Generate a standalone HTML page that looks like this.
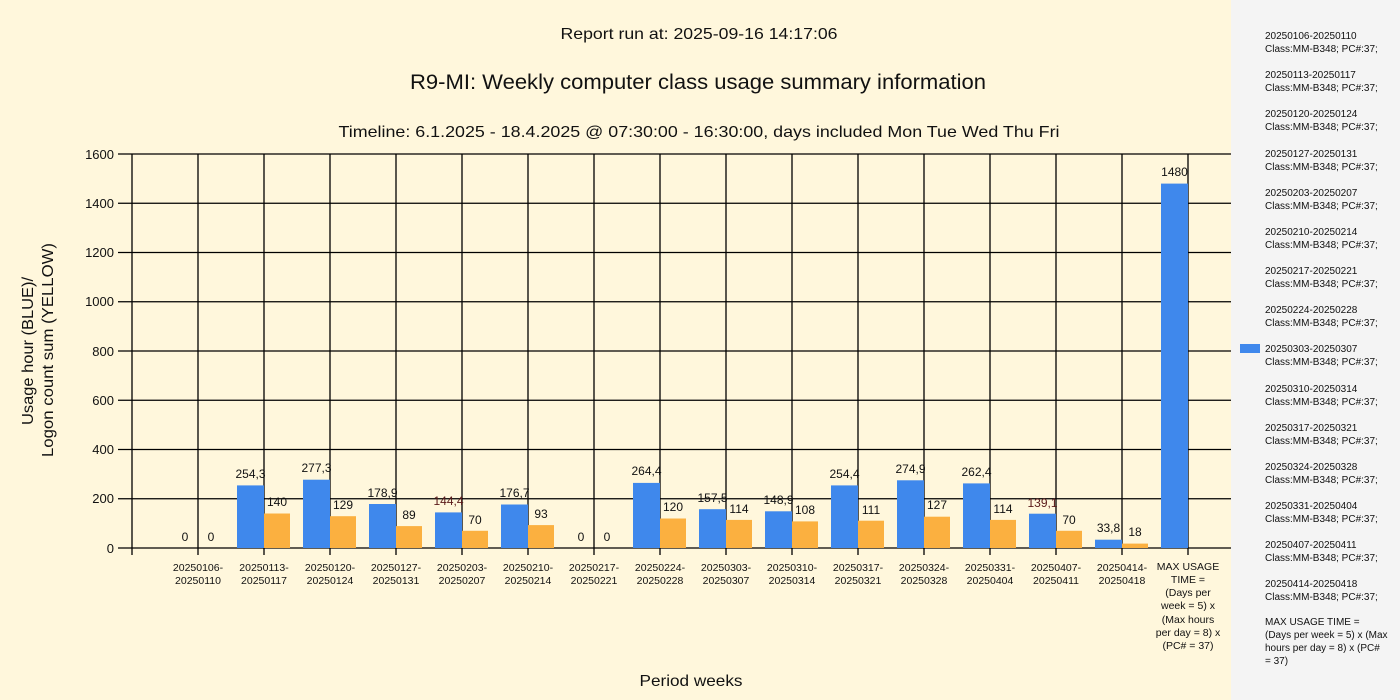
<!DOCTYPE html>
<html><head><meta charset="utf-8"><style>
html,body{margin:0;padding:0;width:1400px;height:700px;overflow:hidden;background:#fff8dc}
svg{display:block}
text{font-family:"Liberation Sans",sans-serif;fill:#111}
</style></head><body>
<svg width="1400" height="700" viewBox="0 0 1400 700" xmlns="http://www.w3.org/2000/svg">
<rect x="0" y="0" width="1231" height="700" fill="#fff7dc"/>
<rect x="1231" y="0" width="169" height="700" fill="#f4f4f4"/>

<text x="699" y="39" font-size="16" text-anchor="middle" textLength="277" lengthAdjust="spacingAndGlyphs">Report run at: 2025-09-16 14:17:06</text>
<text x="698" y="89" font-size="21" text-anchor="middle" textLength="576" lengthAdjust="spacingAndGlyphs">R9-MI: Weekly computer class usage summary information</text>
<text x="699" y="137" font-size="16" text-anchor="middle" textLength="721" lengthAdjust="spacingAndGlyphs">Timeline:  6.1.2025  - 18.4.2025 @  07:30:00 -  16:30:00, days included Mon Tue Wed Thu Fri</text>

<!-- horizontal grid -->
<g stroke="#000" stroke-width="1.3">
<line x1="118" y1="154" x2="1231" y2="154"/>
<line x1="118" y1="203.25" x2="1231" y2="203.25"/>
<line x1="118" y1="252.5" x2="1231" y2="252.5"/>
<line x1="118" y1="301.75" x2="1231" y2="301.75"/>
<line x1="118" y1="351" x2="1231" y2="351"/>
<line x1="118" y1="400.25" x2="1231" y2="400.25"/>
<line x1="118" y1="449.5" x2="1231" y2="449.5"/>
<line x1="118" y1="498.75" x2="1231" y2="498.75"/>
<line x1="118" y1="548" x2="1231" y2="548"/>
<line x1="132" y1="154" x2="132" y2="555"/>
<line x1="198" y1="154" x2="198" y2="555"/>
<line x1="264" y1="154" x2="264" y2="555"/>
<line x1="330" y1="154" x2="330" y2="555"/>
<line x1="396" y1="154" x2="396" y2="555"/>
<line x1="462" y1="154" x2="462" y2="555"/>
<line x1="528" y1="154" x2="528" y2="555"/>
<line x1="594" y1="154" x2="594" y2="555"/>
<line x1="660" y1="154" x2="660" y2="555"/>
<line x1="726" y1="154" x2="726" y2="555"/>
<line x1="792" y1="154" x2="792" y2="555"/>
<line x1="858" y1="154" x2="858" y2="555"/>
<line x1="924" y1="154" x2="924" y2="555"/>
<line x1="990" y1="154" x2="990" y2="555"/>
<line x1="1056" y1="154" x2="1056" y2="555"/>
<line x1="1122" y1="154" x2="1122" y2="555"/>
<line x1="1188" y1="154" x2="1188" y2="555"/>
</g>

<g font-size="13" text-anchor="end">
<text x="114" y="159">1600</text>
<text x="114" y="208">1400</text>
<text x="114" y="257">1200</text>
<text x="114" y="306">1000</text>
<text x="114" y="356">800</text>
<text x="114" y="405">600</text>
<text x="114" y="454">400</text>
<text x="114" y="503">200</text>
<text x="114" y="553">0</text>
</g>

<!-- blue bars -->
<g fill="#3f88ec">
<rect x="237" y="485.4" width="27" height="62.6"/>
<rect x="303" y="479.7" width="27" height="68.3"/>
<rect x="369" y="504" width="27" height="44"/>
<rect x="435" y="512.4" width="27" height="35.6"/>
<rect x="501" y="504.5" width="27" height="43.5"/>
<rect x="633" y="482.9" width="27" height="65.1"/>
<rect x="699" y="509.2" width="27" height="38.8"/>
<rect x="765" y="511.3" width="27" height="36.7"/>
<rect x="831" y="485.4" width="27" height="62.6"/>
<rect x="897" y="480.3" width="27" height="67.7"/>
<rect x="963" y="483.4" width="27" height="64.6"/>
<rect x="1029" y="513.7" width="27" height="34.3"/>
<rect x="1095" y="539.7" width="27" height="8.3"/>
<rect x="1161" y="183.6" width="27" height="364.4"/>
</g>
<!-- orange bars -->
<g fill="#fbb040">
<rect x="264" y="513.5" width="26" height="34.5"/>
<rect x="330" y="516.2" width="26" height="31.8"/>
<rect x="396" y="526.1" width="26" height="21.9"/>
<rect x="462" y="530.8" width="26" height="17.2"/>
<rect x="528" y="525.1" width="26" height="22.9"/>
<rect x="660" y="518.5" width="26" height="29.5"/>
<rect x="726" y="519.9" width="26" height="28.1"/>
<rect x="792" y="521.4" width="26" height="26.6"/>
<rect x="858" y="520.7" width="26" height="27.3"/>
<rect x="924" y="516.7" width="26" height="31.3"/>
<rect x="990" y="519.9" width="26" height="28.1"/>
<rect x="1056" y="530.8" width="26" height="17.2"/>
<rect x="1122" y="543.6" width="26" height="4.4"/>
</g>

<!-- value labels -->
<g font-size="12" text-anchor="middle" fill="#222">
<text x="185" y="541">0</text><text x="211" y="541">0</text>
<text x="250.5" y="478">254,3</text><text x="277" y="506">140</text>
<text x="316.5" y="472">277,3</text><text x="343" y="509">129</text>
<text x="382.5" y="497">178,9</text><text x="409" y="519">89</text>
<text x="448.5" y="505" style="fill:#5a1a1a">144,4</text><text x="475" y="524">70</text>
<text x="514.5" y="497">176,7</text><text x="541" y="518">93</text>
<text x="581" y="541">0</text><text x="607" y="541">0</text>
<text x="646.5" y="475">264,4</text><text x="673" y="511">120</text>
<text x="712.5" y="502">157,5</text><text x="739" y="513">114</text>
<text x="778.5" y="504">148,9</text><text x="805" y="514">108</text>
<text x="844.5" y="478">254,4</text><text x="871" y="514">111</text>
<text x="910.5" y="473">274,9</text><text x="937" y="509">127</text>
<text x="976.5" y="476">262,4</text><text x="1003" y="513">114</text>
<text x="1042.5" y="507" style="fill:#5a1a1a">139,1</text><text x="1069" y="524">70</text>
<text x="1108.5" y="532">33,8</text><text x="1135" y="536">18</text>
<text x="1174.5" y="176">1480</text>
</g>

<!-- x labels -->
<g font-size="10.5" text-anchor="middle">
<text x="198" y="571">20250106-</text><text x="198" y="584">20250110</text>
<text x="264" y="571">20250113-</text><text x="264" y="584">20250117</text>
<text x="330" y="571">20250120-</text><text x="330" y="584">20250124</text>
<text x="396" y="571">20250127-</text><text x="396" y="584">20250131</text>
<text x="462" y="571">20250203-</text><text x="462" y="584">20250207</text>
<text x="528" y="571">20250210-</text><text x="528" y="584">20250214</text>
<text x="594" y="571">20250217-</text><text x="594" y="584">20250221</text>
<text x="660" y="571">20250224-</text><text x="660" y="584">20250228</text>
<text x="726" y="571">20250303-</text><text x="726" y="584">20250307</text>
<text x="792" y="571">20250310-</text><text x="792" y="584">20250314</text>
<text x="858" y="571">20250317-</text><text x="858" y="584">20250321</text>
<text x="924" y="571">20250324-</text><text x="924" y="584">20250328</text>
<text x="990" y="571">20250331-</text><text x="990" y="584">20250404</text>
<text x="1056" y="571">20250407-</text><text x="1056" y="584">20250411</text>
<text x="1122" y="571">20250414-</text><text x="1122" y="584">20250418</text>
<text x="1188" y="570">MAX USAGE</text>
<text x="1188" y="583">TIME =</text>
<text x="1188" y="596">(Days per</text>
<text x="1188" y="609">week = 5) x</text>
<text x="1188" y="623">(Max hours</text>
<text x="1188" y="636">per day = 8) x</text>
<text x="1188" y="649">(PC# = 37)</text>
</g>

<text x="691" y="686" font-size="16" text-anchor="middle" textLength="103" lengthAdjust="spacingAndGlyphs">Period weeks</text>
<text transform="translate(33,351) rotate(-90)" font-size="16" text-anchor="middle" textLength="148" lengthAdjust="spacingAndGlyphs">Usage hour (BLUE)/</text>
<text transform="translate(53,350) rotate(-90)" font-size="16" text-anchor="middle" textLength="214" lengthAdjust="spacingAndGlyphs">Logon count sum (YELLOW)</text>

<!-- legend -->
<rect x="1240" y="344" width="20" height="9" fill="#3f88ec"/>
<g font-size="10" fill="#222">
<text x="1265" y="39">20250106-20250110</text><text x="1265" y="52">Class:MM-B348; PC#:37;</text>
<text x="1265" y="78">20250113-20250117</text><text x="1265" y="91">Class:MM-B348; PC#:37;</text>
<text x="1265" y="117">20250120-20250124</text><text x="1265" y="130">Class:MM-B348; PC#:37;</text>
<text x="1265" y="157">20250127-20250131</text><text x="1265" y="170">Class:MM-B348; PC#:37;</text>
<text x="1265" y="196">20250203-20250207</text><text x="1265" y="209">Class:MM-B348; PC#:37;</text>
<text x="1265" y="235">20250210-20250214</text><text x="1265" y="248">Class:MM-B348; PC#:37;</text>
<text x="1265" y="274">20250217-20250221</text><text x="1265" y="287">Class:MM-B348; PC#:37;</text>
<text x="1265" y="313">20250224-20250228</text><text x="1265" y="326">Class:MM-B348; PC#:37;</text>
<text x="1265" y="352">20250303-20250307</text><text x="1265" y="365">Class:MM-B348; PC#:37;</text>
<text x="1265" y="392">20250310-20250314</text><text x="1265" y="405">Class:MM-B348; PC#:37;</text>
<text x="1265" y="431">20250317-20250321</text><text x="1265" y="444">Class:MM-B348; PC#:37;</text>
<text x="1265" y="470">20250324-20250328</text><text x="1265" y="483">Class:MM-B348; PC#:37;</text>
<text x="1265" y="509">20250331-20250404</text><text x="1265" y="522">Class:MM-B348; PC#:37;</text>
<text x="1265" y="548">20250407-20250411</text><text x="1265" y="561">Class:MM-B348; PC#:37;</text>
<text x="1265" y="587">20250414-20250418</text><text x="1265" y="600">Class:MM-B348; PC#:37;</text>
<text x="1265" y="625">MAX USAGE TIME =</text>
<text x="1265" y="638"> (Days per week = 5) x (Max</text>
<text x="1265" y="651">hours per day = 8) x (PC#</text>
<text x="1265" y="664">= 37)</text>
</g>
</svg>
</body></html>
